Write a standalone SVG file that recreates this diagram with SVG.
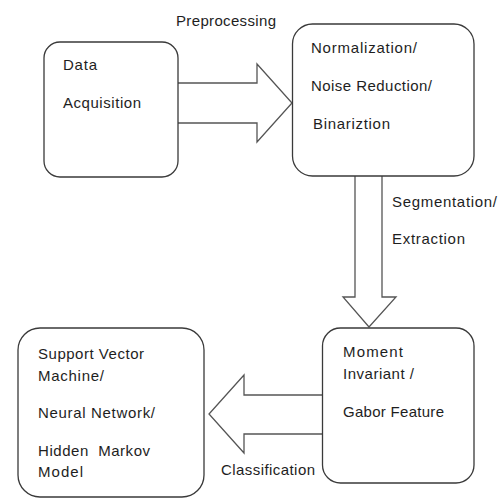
<svg xmlns="http://www.w3.org/2000/svg" width="504" height="498" viewBox="0 0 504 498">
<style>
.box{fill:#fff;stroke:#3a3a3a;stroke-width:1.3}
.arr{fill:#fff;stroke:#555;stroke-width:1.3;stroke-linejoin:miter}
text{font-family:"Liberation Sans",Arial,sans-serif;font-size:15px;fill:#1e1e1e;white-space:pre}
</style>
<rect width="504" height="498" fill="#fff"/>
<g id="connectors">
<path class="arr" d="M178,83 H257 V64 L292,103 L257,142 V123 H178"/>
<path class="arr" d="M355,176 V297 H343 L369,327 L396,297 H382 V176"/>
<path class="arr" d="M322,395 H244 V375 L209,414 L244,453 V434 H322"/>
<text x="176" y="26" textLength="100">Preprocessing</text>
<text x="392" y="207" textLength="105">Segmentation/</text>
<text x="392" y="244" textLength="73">Extraction</text>
<text x="221" y="475" textLength="94">Classification</text>
</g>
<g id="data-acquisition">
<rect class="box" x="44" y="42" width="134" height="135" rx="16"/>
<text x="63" y="70" textLength="34">Data</text>
<text x="63" y="108" textLength="78">Acquisition</text>
</g>
<g id="preprocessing">
<rect class="box" x="292.5" y="24" width="181.5" height="152" rx="20"/>
<text x="311" y="53" textLength="106">Normalization/</text>
<text x="311" y="91" textLength="121">Noise Reduction/</text>
<text x="313" y="129" textLength="77">Binariztion</text>
</g>
<g id="features">
<rect class="box" x="322.5" y="328" width="151.5" height="155" rx="18"/>
<text x="343" y="357" textLength="60">Moment</text>
<text x="343" y="379" textLength="71">Invariant /</text>
<text x="343" y="417" textLength="101">Gabor Feature</text>
</g>
<g id="classifier">
<rect class="box" x="18" y="328" width="186" height="169" rx="22"/>
<text x="38" y="359" textLength="106">Support Vector</text>
<text x="38" y="381" textLength="66">Machine/</text>
<text x="38" y="418" textLength="117">Neural Network/</text>
<text x="38" y="456" textLength="112" xml:space="preserve">Hidden  Markov</text>
<text x="38" y="477" textLength="45">Model</text>
</g>
</svg>
